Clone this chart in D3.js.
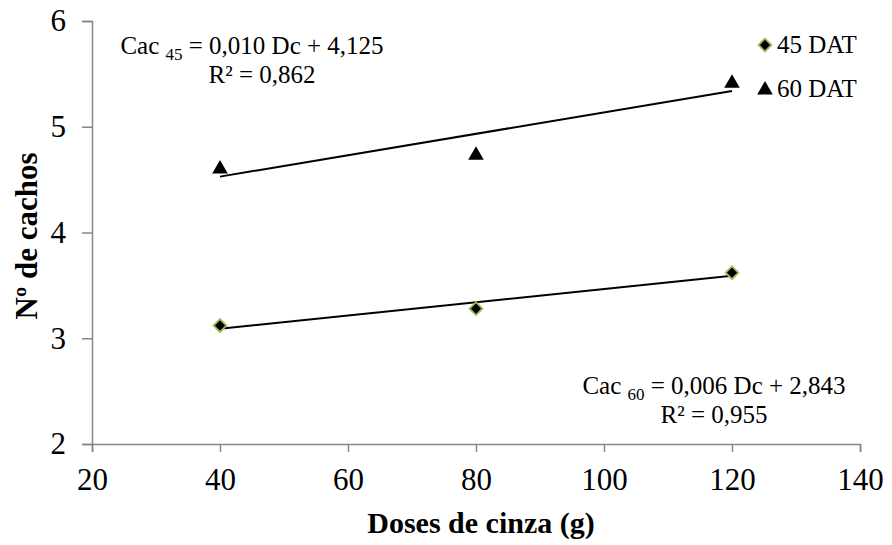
<!DOCTYPE html>
<html>
<head>
<meta charset="utf-8">
<script src="https://cdn.jsdelivr.net/npm/d3@7"></script>
<style>
body { margin: 0; background: #fff; }
svg text { font-family: 'Liberation Serif', 'Times New Roman', 'DejaVu Serif', serif; fill: #000; }
</style>
</head>
<body>
<svg id="chart" width="892" height="545"></svg>
<script>
// data
const doses = [40, 80, 120];
const dat45 = [3.12, 3.28, 3.62];
const dat60 = [4.62, 4.75, 5.43];
const xTicks = [20, 40, 60, 80, 100, 120, 140];
const yTicks = [2, 3, 4, 5, 6];

const serif = "'Liberation Serif', 'Times New Roman', serif";
const svg = d3.select("#chart");
const margin = { top: 21, right: 32, bottom: 101, left: 92 };
const width = 892 - margin.left - margin.right;
const height = 545 - margin.top - margin.bottom;
const g = svg.append("g").attr("transform", `translate(${margin.left},${margin.top})`);

const x = d3.scaleLinear().domain([20, 140]).range([0, width]);
const y = d3.scaleLinear().domain([2, 6]).range([height, 0]);

// axes
const xAxis = g.append("g")
    .attr("transform", `translate(0,${height})`)
    .call(d3.axisBottom(x).tickValues(xTicks).tickFormat(d3.format("d")).tickSize(8).tickPadding(16));
const yAxis = g.append("g")
    .call(d3.axisLeft(y).tickValues(yTicks).tickFormat(d3.format("d")).tickSize(10).tickPadding(16));
[xAxis, yAxis].forEach(a => {
    a.attr("font-family", serif).attr("font-size", 31);
    a.select(".domain").attr("stroke", "#868686").attr("stroke-width", 1.5);
    a.selectAll(".tick line").attr("stroke", "#868686").attr("stroke-width", 1.5);
    a.selectAll(".tick text").attr("fill", "#000");
});

// linear trend lines from the data
function fit(xs, ys) {
    const mx = d3.mean(xs), my = d3.mean(ys);
    const b = d3.sum(xs, (v, i) => (v - mx) * (ys[i] - my)) / d3.sum(xs, v => (v - mx) * (v - mx));
    return { b: b, a: my - b * mx };
}
[dat45, dat60].forEach(ys => {
    const f = fit(doses, ys);
    const x0 = d3.min(doses), x1 = d3.max(doses);
    g.append("line")
        .attr("x1", x(x0)).attr("y1", y(f.a + f.b * x0))
        .attr("x2", x(x1)).attr("y2", y(f.a + f.b * x1))
        .attr("stroke", "#000").attr("stroke-width", 2);
});

// markers
const diamond = d3.symbol().type(d3.symbolDiamond2).size(105);
const triangle = d3.symbol().type(d3.symbolTriangle).size(105);

g.selectAll(".d45").data(doses).enter().append("path")
    .attr("d", diamond)
    .attr("transform", (d, i) => `translate(${x(d)},${y(dat45[i])})`)
    .attr("fill", "#000").attr("stroke", "#9BBB59").attr("stroke-width", 1.8);

g.selectAll(".d60").data(doses).enter().append("path")
    .attr("d", triangle)
    .attr("transform", (d, i) => `translate(${x(d)},${y(dat60[i]) + 2})`)
    .attr("fill", "#000");

// legend
const legend = svg.append("g").attr("transform", "translate(765,45)")
    .attr("font-family", serif).attr("font-size", 25);
legend.append("path").attr("d", diamond).attr("fill", "#000")
    .attr("stroke", "#9BBB59").attr("stroke-width", 1.8);
legend.append("text").attr("x", 12).attr("y", 8).text("45 DAT");
legend.append("path").attr("d", triangle).attr("transform", "translate(0,45)").attr("fill", "#000");
legend.append("text").attr("x", 12).attr("y", 52).text("60 DAT");

// equations
function equation(cx, cy, sub, rest, r2x, r2) {
    const t = svg.append("text").attr("x", cx).attr("y", cy)
        .attr("text-anchor", "middle").attr("font-family", serif).attr("font-size", 25);
    t.append("tspan").text("Cac ");
    t.append("tspan").attr("dy", 6).attr("font-size", 17).text(sub);
    t.append("tspan").attr("dy", -6).text(" " + rest);
    svg.append("text").attr("x", r2x).attr("y", cy + 29)
        .attr("text-anchor", "middle").attr("font-family", serif).attr("font-size", 25).text(r2);
}
equation(252, 54, "45", "= 0,010 Dc + 4,125", 262, "R² = 0,862");
equation(714, 394, "60", "= 0,006 Dc + 2,843", 714, "R² = 0,955");

// axis titles
svg.append("text").attr("x", 481).attr("y", 533)
    .attr("text-anchor", "middle").attr("font-family", serif).attr("font-size", 30).attr("font-weight", "bold")
    .text("Doses de cinza (g)");
svg.append("text").attr("transform", "translate(37,236) rotate(-90)")
    .attr("text-anchor", "middle").attr("font-family", serif).attr("font-size", 31).attr("font-weight", "bold")
    .text("Nº de cachos");
</script>
</body>
</html>
